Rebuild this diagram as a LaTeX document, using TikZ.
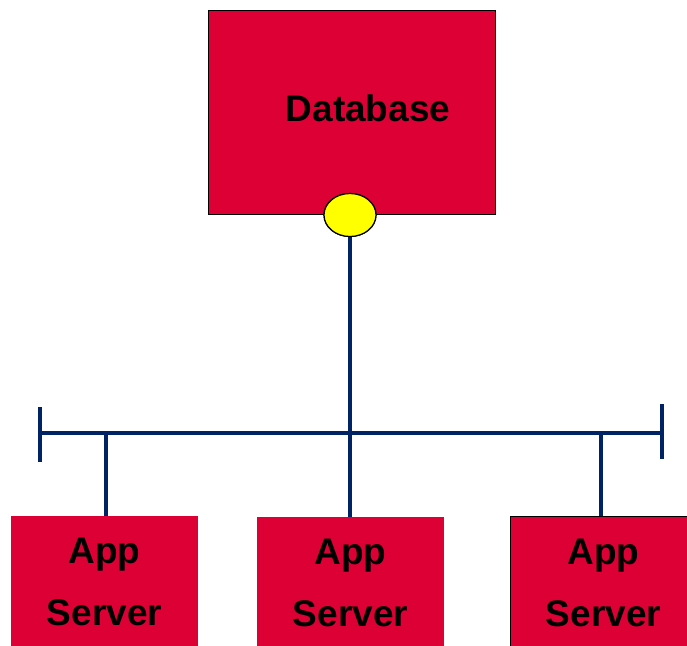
\documentclass[tikz,border=0pt]{standalone}
\usepackage{fontspec}
\setmainfont{Liberation Sans}
\usetikzlibrary{positioning, shapes.geometric}

\definecolor{boxred}{RGB}{220,0,52}
\definecolor{busblue}{RGB}{0,35,102}
\definecolor{portyellow}{RGB}{255,255,0}

\begin{document}
\begin{tikzpicture}[
    x=1pt, y=-1pt,
    box/.style={rectangle, fill=boxred, inner sep=0pt, minimum width=187pt, minimum height=140pt, anchor=north west},
    port/.style={ellipse, draw=black, line width=1.2pt, fill=portyellow, minimum width=52pt, minimum height=43pt, inner sep=0pt},
    bus/.style={draw=busblue, line width=4.5pt},
    label/.style={font=\fontsize{37}{62}\selectfont\bfseries, align=center, text=black},
]
\useasboundingbox (0,0) rectangle (687,645);

% Database
\node[box, draw=black, line width=1.2pt, minimum width=287pt, minimum height=204pt] (db) at (208,10) {};
\node[label] (dbtext) at (368,108) {Database};

% App servers
\node[box] (app1) at (11,516) {};
\node[box] (app2) at (257,517) {};
\node[box, draw=black, line width=1.2pt] (app3) at (510,516) {};
\node[label] (app1text) at (104.5,582) {App\\Server};
\node[label] (app2text) at (350.5,583) {App\\Server};
\node[label] (app3text) at (603.5,583) {App\\Server};

% Bus
\coordinate (busL) at (40,433);
\coordinate (busR) at (662,433);
\coordinate (capL1) at (40,407);
\coordinate (capL2) at (40,462);
\coordinate (capR1) at (662,404);
\coordinate (capR2) at (662,459);
\draw[bus] (busL) -- (busR);
\draw[bus] (capL1) -- (capL2);
\draw[bus] (capR1) -- (capR2);

% Connectors
\coordinate (tap1) at (106,433);
\coordinate (tap3) at (601,433);
\draw[bus] (tap1) -- (tap1 |- app1.north);
\draw[bus] (tap3) -- (tap3 |- app3.north);
\node[port] (dbport) at (350,215) {};
\draw[bus] (dbport.south) -- (dbport.south |- app2.north);
\node[port] at (dbport) {};

\end{tikzpicture}
\end{document}
